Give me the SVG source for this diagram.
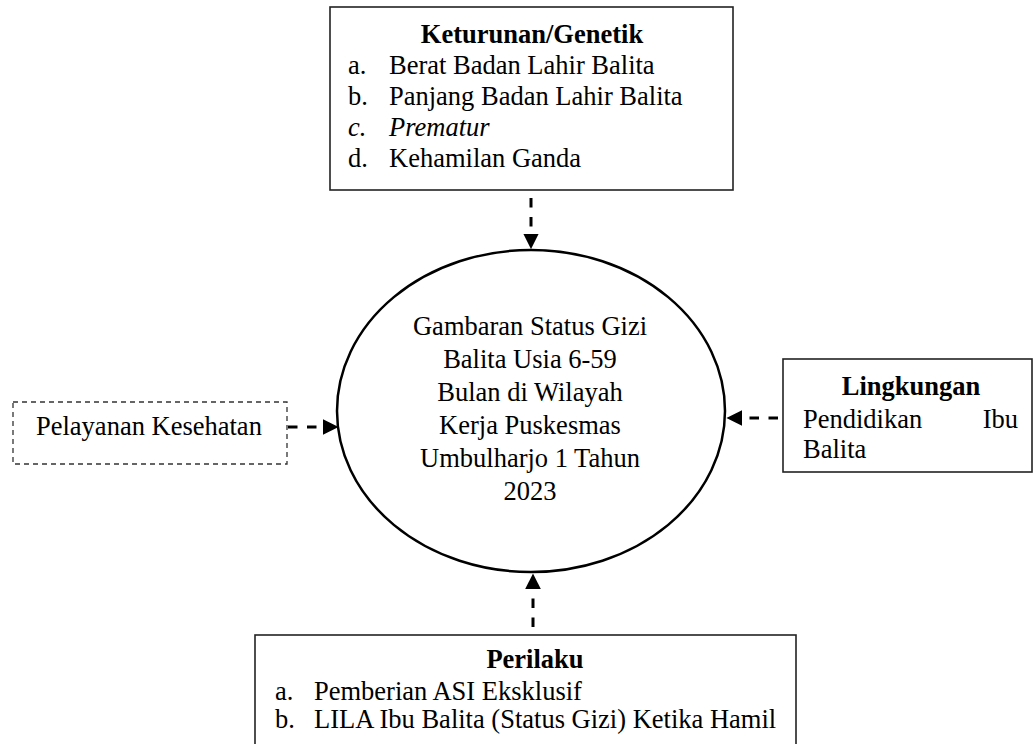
<svg xmlns="http://www.w3.org/2000/svg" width="1034" height="744" viewBox="0 0 1034 744">
<style>
text{font-family:"Liberation Serif","Times New Roman",serif;font-size:26.5px;fill:#000}
.b{font-weight:bold}
.c{text-anchor:middle}
.box{fill:#fff;stroke:#222;stroke-width:1.6}
.dbox{fill:#fff;stroke:#333;stroke-width:1.3;stroke-dasharray:5 4}
.con{stroke:#000;stroke-width:3;stroke-dasharray:9.5 9.5;fill:none}
</style>
<defs>
<marker id="ah" viewBox="0 0 10 10" refX="0" refY="5" markerWidth="5.2" markerHeight="5.2" orient="auto" markerUnits="strokeWidth">
<path d="M0,0 L10,5 L0,10 z" fill="#000"/>
</marker>
</defs>
<rect width="1034" height="744" fill="#fff"/>
<g id="connectors">
<line class="con" x1="531" y1="198" x2="531" y2="233.5" marker-end="url(#ah)"/>
<line class="con" x1="533" y1="627" x2="533" y2="589" marker-end="url(#ah)"/>
<line class="con" x1="288" y1="427" x2="323" y2="427" marker-end="url(#ah)"/>
<line class="con" x1="778" y1="418" x2="742" y2="418" marker-end="url(#ah)"/>
</g>
<g id="center">
<ellipse cx="531" cy="411" rx="194" ry="161" fill="#fff" stroke="#000" stroke-width="2.5"/>
<text class="c" x="530" y="335">Gambaran Status Gizi</text>
<text class="c" x="530" y="368">Balita Usia 6-59</text>
<text class="c" x="530" y="401">Bulan di Wilayah</text>
<text class="c" x="530" y="434">Kerja Puskesmas</text>
<text class="c" x="530" y="467">Umbulharjo 1 Tahun</text>
<text class="c" x="530" y="500">2023</text>
</g>
<g id="genetik">
<rect class="box" x="330" y="7" width="403" height="183"/>
<text class="b c" x="532" y="43">Keturunan/Genetik</text>
<text x="348" y="74">a.</text><text x="389" y="74">Berat Badan Lahir Balita</text>
<text x="348" y="105">b.</text><text x="389" y="105">Panjang Badan Lahir Balita</text>
<text x="348" y="136" font-style="italic">c.</text><text x="389" y="136" font-style="italic">Prematur</text>
<text x="348" y="167">d.</text><text x="389" y="167">Kehamilan Ganda</text>
</g>
<g id="pelayanan">
<rect class="dbox" x="13" y="402" width="274" height="62"/>
<text x="36" y="435">Pelayanan Kesehatan</text>
</g>
<g id="lingkungan">
<rect class="box" x="783" y="359" width="249" height="113"/>
<text class="b c" x="911" y="395">Lingkungan</text>
<text x="803" y="428">Pendidikan</text>
<text x="1018" y="428" text-anchor="end">Ibu</text>
<text x="803" y="458">Balita</text>
</g>
<g id="perilaku">
<rect class="box" x="255" y="635" width="541" height="120"/>
<text class="b c" x="535" y="668">Perilaku</text>
<text x="275" y="700">a.</text><text x="314" y="700">Pemberian ASI Eksklusif</text>
<text x="275" y="728">b.</text><text x="314" y="728">LILA Ibu Balita (Status Gizi) Ketika Hamil</text>
</g>
</svg>
